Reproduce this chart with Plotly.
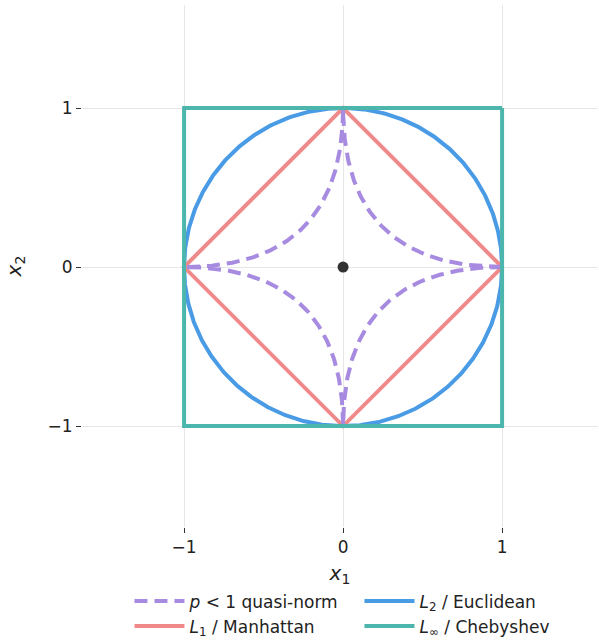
import numpy as np
import plotly.graph_objects as go

# Unit balls of the p-(quasi-)norms in the plane
norm_p = [0.5, 1, 2, np.inf]
norm_names = [
    "<i>p</i> < 1 quasi-norm",
    "<i>L</i><sub>1</sub> / Manhattan",
    "<i>L</i><sub>2</sub> / Euclidean",
    "<i>L</i><sub>∞</sub> / Chebyshev",
]
norm_colors = ["#a78be0", "#f08a8a", "#4a9be6", "#4db6ac"]
norm_dash = ["13px,7px", "solid", "solid", "solid"]
legend_rank = [1, 3, 2, 4]      # two-column legend: quasi | L2 / L1 | L-inf
draw_order = [2, 1, 0, 3]       # circle, diamond, quasi-norm, square

tick_vals = [-1, 0, 1]
tick_text = ["−1", "0", "1"]
origin = [0.0, 0.0]


def unit_ball(p, n=721):
    t = np.linspace(0, 2 * np.pi, n)
    c, s = np.cos(t), np.sin(t)
    if np.isinf(p):
        # boundary of max(|x|,|y|) = 1
        x = np.array([1, -1, -1, 1, 1], dtype=float)
        y = np.array([1, 1, -1, -1, 1], dtype=float)
        return x, y
    if p == 1:
        x = np.array([1, 0, -1, 0, 1], dtype=float)
        y = np.array([0, 1, 0, -1, 0], dtype=float)
        return x, y
    e = 2.0 / p
    return np.sign(c) * np.abs(c) ** e, np.sign(s) * np.abs(s) ** e


fig = go.Figure()
for i in draw_order:
    x, y = unit_ball(norm_p[i])
    fig.add_trace(go.Scatter(
        x=x, y=y, mode="lines", name=norm_names[i],
        line=dict(color=norm_colors[i], width=4, dash=norm_dash[i]),
        legendrank=legend_rank[i], hoverinfo="skip",
    ))

fig.add_trace(go.Scatter(
    x=[origin[0]], y=[origin[1]], mode="markers", showlegend=False,
    marker=dict(color="#333333", size=11),
))

font_family = "DejaVu Sans"
axis_common = dict(
    tickvals=tick_vals, ticktext=tick_text,
    ticks="outside", ticklen=5, tickwidth=1.2, tickcolor="#333333",
    showgrid=True, gridcolor="#e6e6e6", gridwidth=1,
    zeroline=False, showline=False,
    tickfont=dict(size=17, color="#222222", family=font_family),
)

fig.update_layout(
    width=599, height=641,
    margin=dict(l=82, r=1, t=5, b=114, autoexpand=False),
    plot_bgcolor="white", paper_bgcolor="white",
    font=dict(family=font_family, color="#222222"),
    xaxis=dict(range=[-1.642, -1.642 + 516 / 159],
               title=dict(text="<i>x</i><sub>1</sub>", font=dict(size=20), standoff=9),
               **axis_common),
    yaxis=dict(range=[-1.635, -1.635 + 522 / 159],
               title=dict(text="<i>x</i><sub>2</sub>", font=dict(size=20), standoff=20),
               **axis_common),
    legend=dict(
        orientation="h", x=0.092, xanchor="left", y=-0.108, yanchor="top",
        entrywidth=165, entrywidthmode="pixels", itemwidth=50,
        font=dict(size=17, color="#222222"),
        bgcolor="rgba(0,0,0,0)",
    ),
)

fig.write_html("out.html")
